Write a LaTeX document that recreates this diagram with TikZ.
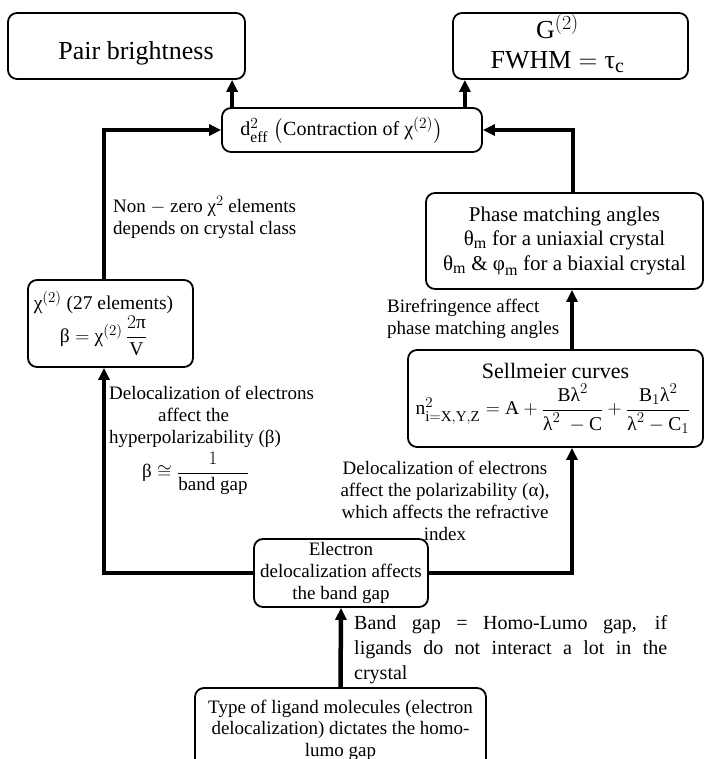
\documentclass[tikz,border=0pt]{standalone}
\usepackage{fix-cm}
\usepackage{amsmath}
\usepackage{fontspec}
\setmainfont{Liberation Serif}
\usetikzlibrary{arrows.meta}
\DeclareMathSizes{26}{26}{20}{15}
\DeclareMathSizes{22}{22}{17}{12}
\DeclareMathSizes{21}{21}{16}{12}
\DeclareMathSizes{20}{20}{15.5}{11}
\DeclareMathSizes{19.5}{19.5}{15}{11}
\DeclareMathSizes{19}{19}{14.5}{11}
\newcommand\fs[2]{\fontsize{#1pt}{#2pt}\selectfont}
\newcommand\gk[1]{\text{#1}}
\tikzset{
  box/.style={draw, line width=1.8pt, rounded corners=9pt, inner sep=0pt, align=center},
  arr/.style={line width=4.5pt, -{Triangle[length=12pt,width=11pt]}},
  lbl/.style={inner sep=0pt, font=\fs{19}{22}},
}
\begin{document}
\begin{tikzpicture}[x=1pt,y=-1pt]
\useasboundingbox (0,0) rectangle (704,759);
\fill[white] (0,0) rectangle (704,759);

% boxes
\node[box, minimum width=237pt, minimum height=66pt, font=\fs{26}{31}] (pair) at (126.5,46) {\hspace*{19pt}\rule{0pt}{32pt}Pair brightness};
\node[box, minimum width=235pt, minimum height=66pt, font=\fs{26}{31}] (gbox) at (570.5,46)
  {\begin{tabular}{@{}c@{}}\rule{0pt}{24pt}$\mathrm{G}^{(2)}$\\[-1pt]$\mathrm{FWHM}=\gk{τ}_{\mathrm{c}}$\end{tabular}\hspace*{26pt}};
\node[box, minimum width=260pt, minimum height=44pt, font=\fs{20}{24}] (deff) at (352,130)
  {$\mathrm{d}^2_{\mathrm{eff}}\;\big(\text{Contraction of }\gk{χ}^{(2)}\big)$\hspace*{21pt}};
\node[box, minimum width=165pt, minimum height=87pt, font=\fs{19.5}{23}] (chi) at (110.5,323.5)
  {\begin{tabular}{@{}c@{}}$\gk{χ}^{(2)}$ (27 elements)\\$\gk{β}=\gk{χ}^{(2)}\,\dfrac{2\gk{π}}{\mathrm{V}}$\end{tabular}\hspace*{14pt}};
\node[box, minimum width=277pt, minimum height=96pt, font=\fs{21}{24.5}] (phase) at (564.5,241)
  {Phase matching angles\\$\gk{θ}_{\mathrm{m}}$ for a uniaxial crystal\\$\gk{θ}_{\mathrm{m}}$ \& $\gk{φ}_{\mathrm{m}}$ for a biaxial crystal};
\node[box, minimum width=295pt, minimum height=97pt, font=\fs{22}{26}] (sell) at (555.5,398.5)
  {Sellmeier curves\\[4pt]{\fs{19.5}{23}$\mathrm{n}^2_{\mathrm{i=X,Y,Z}}=\mathrm{A}+\dfrac{\mathrm{B}\gk{λ}^2}{\gk{λ}^2\ -\mathrm{C}}+\dfrac{\mathrm{B}_1\gk{λ}^2}{\gk{λ}^2-\mathrm{C}_1}$}\hspace*{5pt}};
\node[box, minimum width=174pt, minimum height=68pt, font=\fs{19}{22}] (elec) at (341,573)
  {Electron\\delocalization affects\\the band gap};
\node[box, minimum width=291pt, minimum height=84pt, font=\fs{19}{21.5}] (type) at (340.5,730)
  {Type of ligand molecules (electron\\delocalization) dictates the homo-\\lumo gap};

% labels
\node[lbl, anchor=north west, align=left] (nz) at (113,196)
  {Non $-$ zero $\gk{χ}^2$ elements\\depends on crystal class};
\node[lbl, anchor=north west, align=left] (bire) at (387,299)
  {Birefringence affect\\phase matching angles};
\node[lbl, anchor=north west, align=left] (lft) at (109,386)
  {Delocalization of electrons\\\hspace*{49pt}affect the\\hyperpolarizability ($\gk{β}$)\\[4pt]\hspace*{33pt}$\gk{β}\cong\dfrac{1}{\text{band gap}}$};
\node[lbl, anchor=north, align=center] (rgt) at (445,461)
  {Delocalization of electrons\\affect the polarizability ($\gk{α}$),\\which affects the refractive\\index};
\node[lbl, anchor=north west, text width=313pt, align=justify, font=\fs{20}{25}] (band) at (354,615)
  {\hyphenpenalty=10000\exhyphenpenalty=10000\tolerance=10000 Band gap = Homo-Lumo gap, if\linebreak ligands do not interact a lot in the\linebreak crystal};

% connectors
\draw[arr] ([xshift=11pt]deff.north west) -- ([xshift=11pt]deff.north west |- pair.south);
\draw[arr] ([xshift=-18pt]deff.north east) -- ([xshift=-18pt]deff.north east |- gbox.south);
\draw[arr] ([xshift=-6.5pt]chi.north) |- (deff.west);
\draw[arr] ([xshift=8.5pt]phase.north) |- (deff.east);
\draw[arr] ([xshift=16.5pt]sell.north) -- ([xshift=16.5pt]sell.north |- phase.south);
\draw[arr] (elec.east) -| ([xshift=16.5pt]sell.south);
\draw[arr] (elec.west) -| ([xshift=-6.5pt]chi.south);
\draw[arr] (type.north) -- (elec.south);
\end{tikzpicture}
\end{document}
